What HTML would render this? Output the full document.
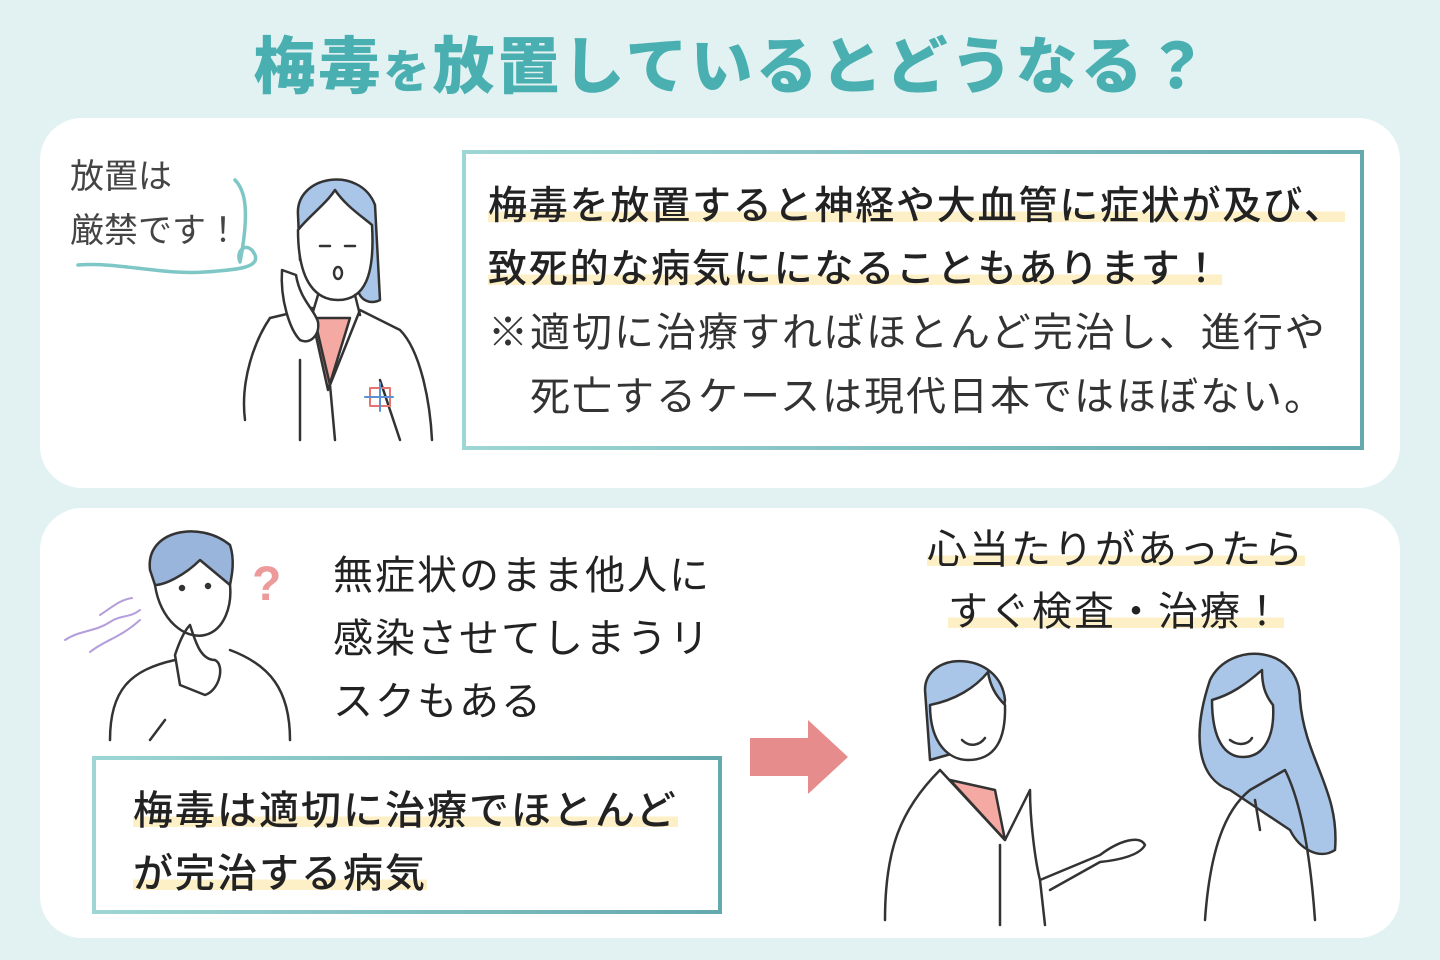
<!DOCTYPE html>
<html><head><meta charset="utf-8"><style>
*{margin:0;padding:0;box-sizing:border-box}
body{width:1440px;height:960px;background:#e2f2f2;position:relative;overflow:hidden;font-family:"Liberation Sans","Noto Sans CJK JP",sans-serif;color:#222}
.abs{position:absolute;white-space:nowrap}
.title{left:12px;width:1440px;top:16px;text-align:center;font-size:62px;font-weight:900;color:#4aafb0;letter-spacing:3px}
.title small{font-size:46px}
.panel{position:absolute;left:40px;width:1360px;background:#fff;border-radius:42px}
.box{position:absolute;border:4px solid #7fc2c2;border-image:linear-gradient(90deg,#9dd6d4,#63a9ad) 1;background:#fff}
.hl{background:linear-gradient(transparent 62%,#fdefc6 62%,#fdefc6 86%,transparent 86%)}
.t38{font-size:40px;line-height:40px;letter-spacing:2px}
.b{font-weight:500}
</style></head><body>
<div class="abs title">梅毒<small>を</small>放置しているとどうなる？</div>
<div class="panel" style="top:118px;height:370px"></div>
<div class="panel" style="top:508px;height:430px"></div>

<div class="box" style="left:462px;top:150px;width:902px;height:300px"></div>
<div class="abs t38 b" style="left:488px;top:187px;font-size:39px;letter-spacing:1.8px"><span class="hl">梅毒を放置すると神経や大血管に症状が及び、</span></div>
<div class="abs t38 b" style="left:488px;top:250px;font-size:39px;letter-spacing:1.8px"><span class="hl">致死的な病気にになることもあります！</span></div>
<div class="abs t38" style="left:488px;top:313px;color:#333">※適切に治療すればほとんど完治し、進行や</div>
<div class="abs t38" style="left:530px;top:377px;color:#333">死亡するケースは現代日本ではほぼない。</div>

<div class="abs" style="left:70px;top:150px;font-size:34px;line-height:54px;color:#444">放置は<br>厳禁です！</div>
<svg class="abs" style="left:0;top:0" width="1440" height="960" fill="none" stroke="#333" stroke-width="2.5" stroke-linecap="round" stroke-linejoin="round">
<path d="M78 265 C120 262 160 275 205 272 C235 270 260 268 255 255 C248 240 235 250 240 262 C250 210 245 190 235 180" stroke="#7fc6c6" stroke-width="3.5"/>
<path d="M298 215 C295 175 360 165 375 205 L380 300 C370 305 360 300 358 290 L300 260 Z" fill="#a9c6e8"/>
<path d="M298 230 C298 285 318 300 338 300 C365 300 375 275 372 225 C360 215 345 205 335 190 C325 205 310 215 298 230 Z" fill="#fff"/>
<path d="M320 246 h10 M345 246 h10" />
<ellipse cx="338" cy="273" rx="4" ry="6"/>
<path d="M318 295 L312 315 M355 295 L360 315"/>
<path d="M312 318 L350 318 L328 390 Z" fill="#f4a9a2"/>
<path d="M270 318 L312 308 L330 385 L360 310 L400 330 C420 350 430 400 432 440 M245 420 C240 380 255 340 270 318 M300 360 L300 440 M330 385 L335 440 M380 380 L400 440"/>
<path d="M282 270 C280 300 290 330 300 340 C310 345 320 335 318 322 C315 310 300 300 296 275 Z" fill="#fff"/>
<path d="M370 388 h20 v18 h-20 Z" stroke="#e5746e" stroke-width="2"/><path d="M380 383 v28 M365 397 h28" stroke="#5b8fd6" stroke-width="2"/>
<path d="M150 570 C145 530 200 520 230 545 C235 560 232 575 230 585 L200 560 C185 575 165 585 155 585 Z" fill="#9ab5db"/>
<path d="M155 585 C160 620 185 640 205 635 C225 630 232 605 230 585"/>
<circle cx="182" cy="588" r="2" fill="#333"/><circle cx="208" cy="586" r="2" fill="#333"/>
<path d="M110 740 C110 690 130 670 175 660 M230 650 C270 665 290 690 290 740 M165 720 L150 740 M175 655 C180 640 185 630 190 625 C195 640 200 660 215 660 C225 665 220 690 205 695 L180 685 Z" />
<path d="M65 640 C80 630 95 632 110 622 C120 615 130 618 140 610 M90 652 C105 640 120 638 140 620 M100 615 C115 605 120 600 132 598" stroke="#b39ddb" stroke-width="2"/>
<text x="252" y="600" font-size="48" font-weight="900" fill="#ec9a9a" stroke="none" font-family="Liberation Sans,sans-serif">?</text>
<path d="M925 690 C925 650 1000 650 1005 700 L1000 740 L930 760 Z" fill="#a9c6e8"/>
<path d="M930 705 C930 745 950 760 968 760 C995 760 1006 740 1005 705 C995 695 990 685 988 672 C975 688 955 700 930 705 Z" fill="#fff"/>
<path d="M962 740 C970 748 980 745 985 738"/>
<path d="M950 780 L995 790 L1005 840 Z" fill="#f4a9a2"/>
<path d="M885 920 C885 850 900 810 940 770 L1005 840 L1030 790 C1030 820 1035 860 1040 880 L1100 855 C1120 840 1140 835 1145 845 C1140 855 1120 860 1100 862 L1050 890 M1000 845 L1000 925 M1040 880 L1045 925"/>
<path d="M1210 680 C1230 640 1300 645 1300 700 C1305 760 1340 790 1335 850 C1320 860 1300 850 1290 830 L1230 790 C1200 780 1190 740 1210 680 Z" fill="#a9c6e8"/>
<path d="M1212 700 C1212 740 1225 757 1243 757 C1265 757 1275 735 1273 705 C1265 695 1262 685 1262 670 C1245 685 1230 695 1212 700 Z" fill="#fff"/>
<path d="M1230 740 C1238 746 1248 745 1252 738"/>
<path d="M1205 920 C1210 850 1225 810 1250 790 L1285 770 C1300 800 1310 850 1315 920 M1255 800 L1260 830"/>
</svg>

<div class="abs t38" style="left:333px;top:545px;line-height:63px;color:#222">無症状のまま他人に<br>感染させてしまうリ<br>スクもある</div>
<div class="box" style="left:92px;top:756px;width:630px;height:158px"></div>
<div class="abs t38 b" style="left:133px;top:780px;line-height:63px;letter-spacing:2px"><span class="hl">梅毒は適切に治療でほとんど</span><br><span class="hl">が完治する病気</span></div>
<svg class="abs" style="left:750px;top:720px" width="100" height="74"><polygon points="0,18 58,18 58,0 98,37 58,74 58,56 0,56" fill="#e68c8c"/></svg>
<div class="abs t38" style="left:905px;top:519px;line-height:62px;text-align:center;width:422px;letter-spacing:2px"><span class="hl">心当たりがあったら</span><br><span class="hl">すぐ検査・治療！</span></div>
</body></html>
